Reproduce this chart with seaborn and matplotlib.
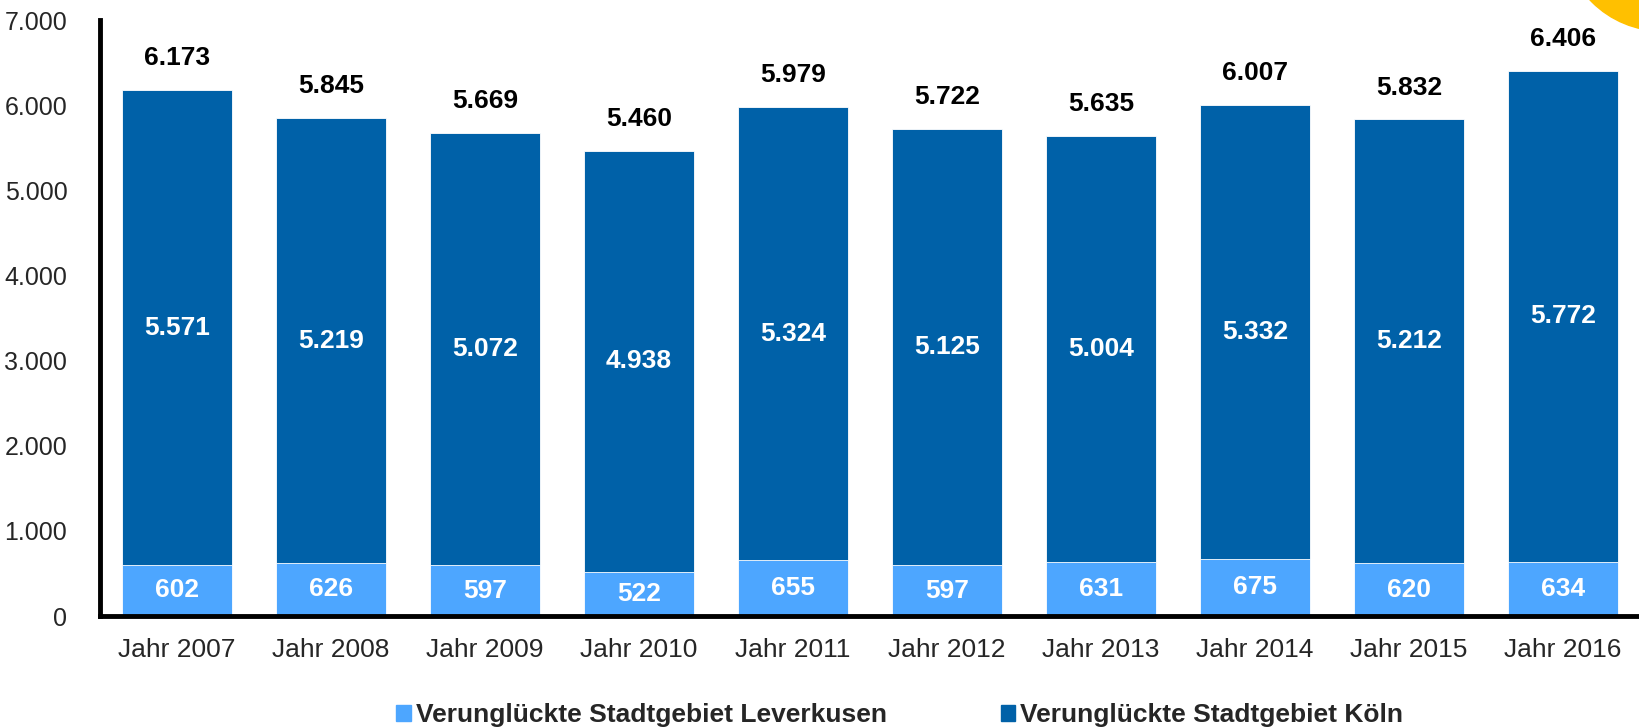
import matplotlib
matplotlib.use("Agg")
import matplotlib.pyplot as plt
from matplotlib.patches import Ellipse, Patch
import seaborn as sns
import pandas as pd

# data
jahre = ["Jahr 2007", "Jahr 2008", "Jahr 2009", "Jahr 2010", "Jahr 2011",
         "Jahr 2012", "Jahr 2013", "Jahr 2014", "Jahr 2015", "Jahr 2016"]
leverkusen = [602, 626, 597, 522, 655, 597, 631, 675, 620, 634]
koeln = [5571, 5219, 5072, 4938, 5324, 5125, 5004, 5332, 5212, 5772]
y_ticks = [0, 1000, 2000, 3000, 4000, 5000, 6000, 7000]

df = pd.DataFrame({"jahr": jahre, "leverkusen": leverkusen, "koeln": koeln})
df["gesamt"] = df["leverkusen"] + df["koeln"]

c_dark = "#0061A8"
c_light = "#4DA6FF"


def de(v):
    return f"{v:,}".replace(",", ".")


sns.set_style("white")
plt.rcParams["font.family"] = ["Liberation Sans", "DejaVu Sans"]

fig = plt.figure(figsize=(16.39, 7.28), dpi=100)
ax = fig.add_axes([100 / 1639, 1 - 616 / 728, 1540 / 1639, (616 - 20) / 728])

# stacked: total in dark, Leverkusen drawn over it in light
sns.barplot(data=df, x="jahr", y="gesamt", color=c_dark, width=0.71,
            saturation=1, edgecolor="white", linewidth=0.6, ax=ax)
sns.barplot(data=df, x="jahr", y="leverkusen", color=c_light, width=0.71,
            saturation=1, edgecolor="white", linewidth=0.6, ax=ax)

for i, row in df.iterrows():
    ax.annotate(de(row["gesamt"]), (i, row["gesamt"]), xytext=(0, 23),
                textcoords="offset points", ha="center", va="center",
                fontsize=19, fontweight="bold", color="black")
    ax.text(i, row["leverkusen"] + row["koeln"] / 2, de(row["koeln"]),
            ha="center", va="center", fontsize=19, fontweight="bold", color="white")
    ax.text(i, row["leverkusen"] / 2, de(row["leverkusen"]),
            ha="center", va="center", fontsize=19, fontweight="bold", color="white")

ax.set_xlim(-0.5, 9.5)
ax.set_ylim(0, 7000)
ax.set_yticks(y_ticks)
ax.set_yticklabels([de(v) for v in y_ticks], fontsize=18)
ax.set_xticks(range(len(jahre)))
ax.set_xticklabels(jahre, fontsize=19)
ax.set_xlabel("")
ax.set_ylabel("")

# ticks between categories on x
ax.set_xticks([i - 0.5 for i in range(len(jahre) + 1)], minor=True)
ax.tick_params(axis="x", which="major", length=0, pad=16)
ax.tick_params(axis="x", which="minor", length=6, width=3, direction="out", color="black")
ax.tick_params(axis="y", length=6, width=3, direction="out", color="black", pad=17.5)

for s in ["top", "right"]:
    ax.spines[s].set_visible(False)
for s in ["left", "bottom"]:
    ax.spines[s].set_linewidth(3.5)
    ax.spines[s].set_color("black")
    ax.spines[s].set_clip_on(False)

handles = [Patch(color=c_light, label="Verunglückte Stadtgebiet Leverkusen"),
           Patch(color=c_dark, label="Verunglückte Stadtgebiet Köln")]
fig.legend(handles=handles, loc="center", bbox_to_anchor=(0.549, 1 - 715 / 728),
           ncol=2, frameon=False, handlelength=0.55, handleheight=0.55,
           handletextpad=0.2, columnspacing=4.3,
           prop={"size": 19, "weight": "bold"})

# yellow decoration in the top right corner
fig.patches.append(Ellipse((1662 / 1639, 1 + 68 / 728), 2 * 99 / 1639, 2 * 99 / 728,
                           transform=fig.transFigure, color="#FFC000", zorder=0))

fig.savefig("out.png", dpi=100)
